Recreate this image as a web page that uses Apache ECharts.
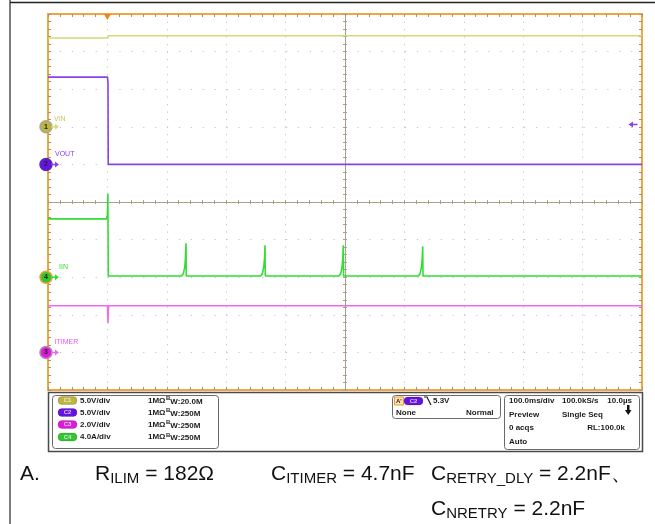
<!DOCTYPE html>
<html>
<head>
<meta charset="utf-8">
<script src="https://cdn.jsdelivr.net/npm/echarts@6/dist/echarts.min.js"></script>
<style>
  html, body { margin: 0; padding: 0; background: #fff; }
  #chart { width: 655px; height: 524px; }
</style>
</head>
<body>
<div id="chart"></div>
<script>
// ---- Captured waveforms: [time in ms, value in channel units] ----
// Time base 100 ms/div over 10 divisions; trigger at 100 ms.
const vinPoints = [[0, 11.8], [100.6, 11.8], [101.2, 12.1], [1000, 12.1]];
const voutPoints = [[0, 11.6], [100.2, 11.6], [101, 10.8], [101.4, 0], [1000, 0]];
const iinPoints = [
  [0, 6.2], [98.5, 6.2], [100, 6.6], [100.8, 8.9], [101.5, 0.12],
  [225, 0.12], [228, 0.4], [230.3, 1.1], [231.5, 2.1], [232.3, 3.6], [232.8, 0.12],
  [358, 0.12], [361, 0.4], [363.3, 1.1], [364.5, 2.0], [365.3, 3.4], [365.8, 0.12],
  [490, 0.12], [493, 0.4], [495.1, 1.1], [496.3, 2.0], [497.1, 3.4], [497.6, 0.12],
  [623.5, 0.12], [626.5, 0.4], [628.8, 1.1], [630, 2.0], [630.8, 3.3], [631.3, 0.12],
  [1000, 0.12]
];
const itimerPoints = [[0, 2.48], [100.2, 2.48], [100.9, 1.55], [101.5, 2.3], [102.3, 2.48], [1000, 2.48]];

// Acquisition settings shown in the readout
const scaleLabels = ['5.0V/div', '5.0V/div', '2.0V/div', '4.0A/div'];
const bandwidthLabels = ['20.0M', '250M', '250M', '250M'];
const triggerLevel = 5.3;      // V on C2
const triggerTime = 100;       // ms
const timeMax = 1000;          // ms
const msPerDiv = 100;

// Component values listed under the capture: [text, subscript] pieces
const captionLabel = 'A.';
const captionRowA = [
  [['R', false], ['ILIM', true], [' = 182Ω', false]],
  [['C', false], ['ITIMER', true], [' = 4.7nF', false]],
  [['C', false], ['RETRY_DLY', true], [' = 2.2nF、', false]]
];
const captionRowB = [[['C', false], ['NRETRY', true], [' = 2.2nF', false]]];

// ---- Channel presentation: units/div and zero marker position (divisions from top) ----
const channels = [
  { name: 'VIN',    num: '1', perDiv: 5, zeroDiv: 3, data: vinPoints,    color: '#d6d97a', text: '#c9c54e', badge: '#bdb540', ring: '#a9a78e', dx: 3, dy: -5 },
  { name: 'VOUT',   num: '2', perDiv: 5, zeroDiv: 4, data: voutPoints,   color: '#8a40ee', text: '#8a40ee', badge: '#6512e2', ring: '#5a2ab0', dx: 4, dy: -7.5 },
  { name: 'ITIMER', num: '3', perDiv: 2, zeroDiv: 9, data: itimerPoints, color: '#ec6aec', text: '#ee55ee', badge: '#da1cda', ring: '#b48ab4', dx: 3.5, dy: -7.5 },
  { name: 'IIN',    num: '4', perDiv: 4, zeroDiv: 7, data: iinPoints,    color: '#33dd33', text: '#3ad83a', badge: '#33c633', ring: '#f0a030', dx: 8, dy: -7 }
];
const seriesOrder = [0, 1, 3, 2];

const FRAME = '#f3a53e';
const TICK = '#9e957f';
const DOT = '#c4c4c4';
const CROSS = '#a9a18c';
const FONT = 'Liberation Sans, Arial, sans-serif';

const ARROW_RIGHT = 'path://M0,3L5,3L5,0L10,4L5,8L5,5L0,5Z';
const ARROW_LEFT = 'path://M10,3L5,3L5,0L0,4L5,8L5,5L10,5Z';

function frameAxis(extra) {
  return Object.assign({
    type: 'value', min: -5, max: 5, interval: 1,
    axisLine: { show: true, onZero: false, lineStyle: { color: FRAME, width: 2 } },
    axisTick: { show: true, inside: true, length: 3, lineStyle: { color: TICK, width: 1 } },
    minorTick: { show: true, splitNumber: 5, length: 3, lineStyle: { color: TICK, width: 1 } },
    axisLabel: { show: false },
    splitLine: { show: false }
  }, extra);
}

function crossAxis(inside, refIndex) {
  return {
    type: 'value', min: -5, max: 5, interval: 1,
    axisLine: { show: true, onZero: true, onZeroAxisIndex: refIndex, lineStyle: { color: CROSS, width: 1 } },
    axisTick: { show: true, inside: inside, length: 2, lineStyle: { color: CROSS } },
    minorTick: { show: true, splitNumber: 5, length: 2, lineStyle: { color: CROSS } },
    axisLabel: { show: false },
    splitLine: { show: false }
  };
}

const xAxes = [
  {
    type: 'value', min: 0, max: timeMax, interval: msPerDiv, position: 'bottom',
    axisLine: { show: true, onZero: false, lineStyle: { color: FRAME, width: 2 } },
    axisTick: { show: true, inside: true, length: 3, lineStyle: { color: TICK } },
    minorTick: { show: true, splitNumber: 5, length: 3, lineStyle: { color: TICK } },
    axisLabel: { show: false },
    splitLine: { show: true, lineStyle: { color: DOT, width: 1, type: [1.2, 6.3] } }
  },
  frameAxis({ position: 'top' }),
  Object.assign(crossAxis(true, 4), { position: 'bottom' }),
  Object.assign(crossAxis(false, 4), { position: 'bottom' })
];

const yAxes = channels.map(ch => ({
  type: 'value', show: false,
  min: -(10 - ch.zeroDiv) * ch.perDiv, max: ch.zeroDiv * ch.perDiv,
  axisLine: { onZero: false }, splitLine: { show: false }
}));
yAxes.push(frameAxis({
  position: 'left',
  splitLine: { show: true, lineStyle: { color: DOT, width: 1, type: [1.2, 10.7] } }
}));
yAxes.push(frameAxis({ position: 'right' }));
yAxes.push(Object.assign(crossAxis(true, 1), { position: 'left' }));
yAxes.push(Object.assign(crossAxis(false, 1), { position: 'left' }));

const series = seriesOrder.map(i => {
  const ch = channels[i];
  const marks = [
    {
      coord: [0, 0], symbol: 'circle', symbolSize: 12, symbolOffset: [-2, 0],
      itemStyle: { color: ch.badge, borderColor: ch.ring, borderWidth: 1.5 },
      label: { show: true, position: 'inside', formatter: ch.num, fontSize: 7, fontWeight: 'bold', color: '#222', fontFamily: FONT }
    },
    {
      coord: [0, 0], symbol: ARROW_RIGHT, symbolSize: [8, 6], symbolOffset: [7, 0],
      itemStyle: { color: ch.color },
      label: {
        show: true, formatter: ch.name, position: [ch.dx, ch.dy], align: 'left', verticalAlign: 'middle',
        fontSize: 7, color: ch.text, fontFamily: FONT
      }
    }
  ];
  if (ch.name === 'VOUT') {
    // trigger level indicator on the right edge
    marks.push({
      coord: [timeMax, triggerLevel], symbol: ARROW_LEFT, symbolSize: [9, 6], symbolOffset: [-9, 0],
      itemStyle: { color: ch.color }, label: { show: false }
    });
    // trigger position marker on the top edge
    marks.push({
      coord: [triggerTime, ch.zeroDiv * ch.perDiv], symbol: 'triangle', symbolRotate: 180,
      symbolSize: [7, 6], symbolOffset: [0, 3],
      itemStyle: { color: '#f0841c' }, label: { show: false }
    });
  }
  return {
    name: ch.name, type: 'line', xAxisIndex: 0, yAxisIndex: i,
    data: ch.data, showSymbol: false, symbol: 'none', animation: false,
    lineStyle: { color: ch.color, width: 1.6 },
    itemStyle: { color: ch.color },
    z: 5,
    markPoint: { silent: true, animation: false, z: 6, data: marks }
  };
});

// ---- Readout panel and caption ----
const TXT = { font: 'bold 8px ' + FONT, fill: '#1c1c1c', textVerticalAlign: 'middle' };
function t(x, y, s, extra) {
  return { type: 'text', x: x, y: y, silent: true, style: Object.assign({ text: s }, TXT, extra || {}) };
}
function pill(x, y, w, fill, label) {
  return [
    { type: 'rect', shape: { x: x, y: y - 4, width: w, height: 8, r: 4 }, style: { fill: fill, stroke: 'rgba(0,0,0,0.25)', lineWidth: 0.6 } },
    { type: 'text', x: x + w / 2, y: y, style: { text: label, font: 'bold 6px ' + FONT, fill: 'rgba(255,255,255,0.75)', textAlign: 'center', textVerticalAlign: 'middle' } }
  ];
}

const graphics = [];
// outer page lines
graphics.push({ type: 'line', shape: { x1: 10, y1: 0, x2: 10, y2: 524 }, style: { stroke: '#7d7d7d', lineWidth: 2 } });
graphics.push({ type: 'line', shape: { x1: 10, y1: 2.5, x2: 655, y2: 2.5 }, style: { stroke: '#222', lineWidth: 1.5 } });
// readout frame
graphics.push({ type: 'rect', shape: { x: 48.5, y: 392.5, width: 594, height: 59 }, style: { fill: '#fff', stroke: '#4a4a4a', lineWidth: 1.5 } });
graphics.push({ type: 'rect', shape: { x: 52.5, y: 395.5, width: 166, height: 53, r: 3 }, style: { fill: 'none', stroke: '#6a6a6a', lineWidth: 1 } });
graphics.push({ type: 'rect', shape: { x: 392.5, y: 395.5, width: 108, height: 23, r: 3 }, style: { fill: 'none', stroke: '#6a6a6a', lineWidth: 1 } });
graphics.push({ type: 'rect', shape: { x: 504.5, y: 395.5, width: 135, height: 54, r: 3 }, style: { fill: 'none', stroke: '#6a6a6a', lineWidth: 1 } });

// channel rows
const rowY = [400.5, 412.5, 424.5, 437];
channels.forEach((ch, i) => {
  graphics.push(...pill(58, rowY[i], 19, ch.badge, 'C' + ch.num));
  graphics.push(t(80, rowY[i], scaleLabels[i]));
  graphics.push(t(148, rowY[i], '1MΩ'));
  graphics.push({
    type: 'text', x: 166, y: rowY[i], silent: true,
    style: {
      text: '{b|B}{w|W:' + bandwidthLabels[i] + '}', textVerticalAlign: 'middle',
      rich: {
        b: { font: 'bold 6px ' + FONT, fill: '#1c1c1c', verticalAlign: 'top', lineHeight: 10 },
        w: { font: 'bold 8px ' + FONT, fill: '#1c1c1c', verticalAlign: 'bottom', lineHeight: 10 }
      }
    }
  });
});

// trigger box
graphics.push({ type: 'rect', shape: { x: 394.5, y: 397, width: 9, height: 8 }, style: { fill: '#fde2bd', stroke: '#f39a2a', lineWidth: 1 } });
graphics.push(t(396, 401, "A'", { font: 'bold 6px ' + FONT }));
graphics.push(...pill(404, 401, 19, channels[1].badge, 'C2'));
graphics.push({ type: 'polyline', shape: { points: [[424, 397], [427, 397], [431, 405]] }, style: { stroke: '#1c1c1c', lineWidth: 1.2, fill: 'none' } });
graphics.push(t(433, 401, triggerLevel.toFixed(1) + 'V'));
graphics.push(t(396, 413, 'None'));
graphics.push(t(466, 413, 'Normal'));

// timebase box
graphics.push(t(509, 401, msPerDiv.toFixed(1) + 'ms/div'));
graphics.push(t(562, 401, '100.0kS/s'));
graphics.push(t(632, 401, '10.0µs', { textAlign: 'right' }));
graphics.push(t(509, 415, 'Preview'));
graphics.push(t(562, 415, 'Single Seq'));
graphics.push({ type: 'polygon', shape: { points: [[627, 405], [629.5, 405], [629.5, 410], [631.5, 410], [628.25, 415], [625, 410], [627, 410]] }, style: { fill: '#111' } });
graphics.push(t(625, 428, 'RL:100.0k', { textAlign: 'right' }));
graphics.push(t(509, 428, '0 acqs'));
graphics.push(t(509, 442, 'Auto'));

// caption: subscripts set smaller and dropped below the baseline
const MAIN_SIZE = 21, SUB_SIZE = 15, SUB_DROP = 3;
const measureCtx = document.createElement('canvas').getContext('2d');
function textWidth(s, size) {
  measureCtx.font = size + 'px ' + FONT;
  return measureCtx.measureText(s).width;
}
function captionRun(x, baseline, pieces) {
  let cx = x;
  pieces.forEach(([s, sub]) => {
    const size = sub ? SUB_SIZE : MAIN_SIZE;
    const b = sub ? baseline + SUB_DROP : baseline;
    graphics.push({
      type: 'text', x: cx, y: b - 0.31 * size, silent: true,
      style: { text: s, fontSize: size, fontFamily: FONT, fill: '#111', textVerticalAlign: 'middle' }
    });
    cx += textWidth(s, size);
  });
}
const ROW_A = 481, ROW_B = 516;
graphics.push({
  type: 'text', x: 20, y: ROW_A - 0.31 * MAIN_SIZE, silent: true,
  style: { text: captionLabel, fontSize: MAIN_SIZE, fontFamily: FONT, fill: '#111', textVerticalAlign: 'middle' }
});
const rowAStarts = [95, 271, 431];
captionRowA.forEach((pieces, k) => captionRun(rowAStarts[k], ROW_A, pieces));
captionRowB.forEach(pieces => captionRun(431, ROW_B, pieces));

const chart = echarts.init(document.getElementById('chart'), null, { renderer: 'canvas' });
chart.setOption({
  animation: false,
  backgroundColor: '#ffffff',
  grid: { left: 48, right: 13, top: 14, bottom: 134, containLabel: false },
  xAxis: xAxes,
  yAxis: yAxes,
  series: series,
  graphic: { elements: graphics }
});
</script>
</body>
</html>
